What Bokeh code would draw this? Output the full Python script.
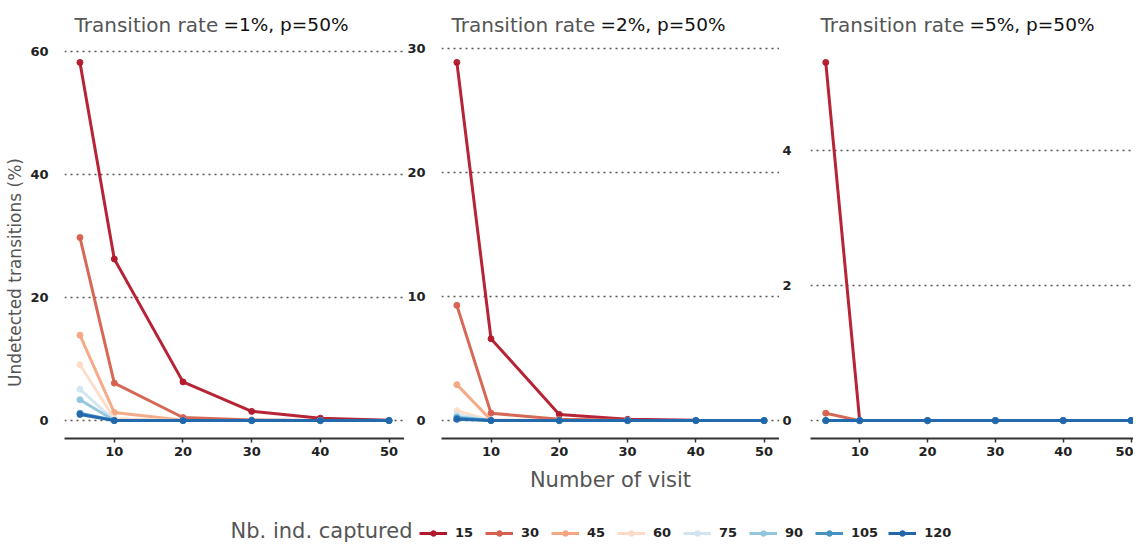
import math
from bokeh.plotting import figure
from bokeh.layouts import row, column
from bokeh.models import Range1d, Label, Legend, LegendItem
from bokeh.embed import file_html
from bokeh.resources import INLINE

# ---------------- data ----------------
visits = [5, 10, 20, 30, 40, 50]
captured = [15, 30, 45, 60, 75, 90, 105, 120]
colors = ["#b2182b", "#d6604d", "#f4a582", "#fddbc7",
          "#d1e5f0", "#92c5de", "#4393c3", "#2166ac"]

panel_title_grey = "Transition rate"
panel_title_black = ["=1%, p=50%", "=2%, p=50%", "=5%, p=50%"]

# undetected transitions (%) per number of captured individuals (rows) and visits (cols)
rate1 = [
    [58.3, 26.3, 6.3, 1.5, 0.4, 0.05],
    [29.8, 6.1, 0.5, 0.1, 0.0, 0.0],
    [13.9, 1.3, 0.05, 0.0, 0.0, 0.0],
    [9.1, 0.3, 0.0, 0.0, 0.0, 0.0],
    [5.1, 0.05, 0.0, 0.0, 0.0, 0.0],
    [3.4, 0.0, 0.0, 0.0, 0.0, 0.0],
    [1.2, 0.0, 0.0, 0.0, 0.0, 0.0],
    [1.0, 0.0, 0.0, 0.0, 0.0, 0.0],
]
rate2 = [
    [28.9, 6.6, 0.5, 0.1, 0.02, 0.0],
    [9.3, 0.6, 0.1, 0.02, 0.0, 0.0],
    [2.9, 0.05, 0.0, 0.0, 0.0, 0.0],
    [0.8, 0.0, 0.0, 0.0, 0.0, 0.0],
    [0.5, 0.0, 0.0, 0.0, 0.0, 0.0],
    [0.3, 0.0, 0.0, 0.0, 0.0, 0.0],
    [0.2, 0.0, 0.0, 0.0, 0.0, 0.0],
    [0.1, 0.0, 0.0, 0.0, 0.0, 0.0],
]
rate3 = [
    [5.31, 0.0, 0.0, 0.0, 0.0, 0.0],
    [0.11, 0.0, 0.0, 0.0, 0.0, 0.0],
    [0.0, 0.0, 0.0, 0.0, 0.0, 0.0],
    [0.0, 0.0, 0.0, 0.0, 0.0, 0.0],
    [0.0, 0.0, 0.0, 0.0, 0.0, 0.0],
    [0.0, 0.0, 0.0, 0.0, 0.0, 0.0],
    [0.0, 0.0, 0.0, 0.0, 0.0, 0.0],
    [0.0, 0.0, 0.0, 0.0, 0.0, 0.0],
]
yticks = [[0, 20, 40, 60], [0, 10, 20, 30], [0, 2, 4]]
xticks = [10, 20, 30, 40, 50]

# ---------------- styling / layout ----------------
FONT = "DejaVu Sans"
DATA_H = 394          # height of the expanded data area
EXTRA_TOP = 42        # room inside frame above data area for panel titles
FRAME_H = DATA_H + EXTRA_TOP
TOP, BOTTOM = 2, 67
H = TOP + FRAME_H + BOTTOM
TOTAL_H = 543
LABEL_W = 27
OVERHANG = 9          # space bokeh reserves right of each frame for the last x tick label
frames = [
    dict(left=28, fw=340),
    dict(left=26, fw=340),
    dict(left=18, fw=327),
]
xlo = visits[0] - 0.05 * (visits[-1] - visits[0])
xhi = visits[-1] + 0.05 * (visits[-1] - visits[0])
unit_px = 340 / (xhi - xlo)

# y-axis title strip
yl = figure(width=LABEL_W, height=H, x_range=Range1d(0, 1), y_range=Range1d(0, 1),
            output_backend="svg", toolbar_location=None,
            min_border_left=0, min_border_right=0,
            min_border_top=TOP, min_border_bottom=BOTTOM)
yl.axis.visible = False
yl.grid.visible = False
yl.outline_line_color = None
yl.add_layout(Label(x=14, y=166, x_units="screen", y_units="screen",
                    text="Undetected transitions (%)", angle=math.pi / 2,
                    text_font=FONT, text_font_size="17px", text_color="#555555",
                    text_align="center", text_baseline="middle"))

figs = [yl]
for i, data in enumerate([rate1, rate2, rate3]):
    fr = frames[i]
    ymax = max(max(r) for r in data)
    ylo, yhi = -0.05 * ymax, ymax * 1.05
    ppu = DATA_H / (yhi - ylo)
    y_end = yhi + EXTRA_TOP / ppu
    x_end = xlo + fr["fw"] / unit_px
    p = figure(width=fr["left"] + fr["fw"] + OVERHANG, height=H,
               x_range=Range1d(xlo, x_end), y_range=Range1d(ylo, y_end),
               output_backend="svg", toolbar_location=None,
               min_border_left=fr["left"], min_border_right=0,
               min_border_top=TOP, min_border_bottom=BOTTOM)
    p.outline_line_color = None
    p.background_fill_color = "white"
    p.border_fill_color = "white"
    p.xgrid.visible = False
    p.ygrid.grid_line_color = "#555555"
    p.ygrid.grid_line_dash = "2 4"
    p.ygrid.grid_line_width = 1.6

    p.yaxis.ticker = yticks[i]
    p.yaxis.axis_line_color = None
    p.yaxis.major_tick_line_color = None
    p.yaxis.minor_tick_line_color = None
    p.yaxis.major_label_standoff = 13 if i == 2 else 10
    p.yaxis.major_label_text_font = FONT
    p.yaxis.major_label_text_font_size = "13px"
    p.yaxis.major_label_text_font_style = "bold"
    p.yaxis.major_label_text_color = "#222222"

    p.xaxis.ticker = xticks
    p.xaxis.axis_line_color = "#333333"
    p.xaxis.axis_line_width = 2
    p.xaxis.major_tick_line_color = "#333333"
    p.xaxis.major_tick_line_width = 1.5
    p.xaxis.major_tick_out = 4
    p.xaxis.major_tick_in = 0
    p.xaxis.minor_tick_line_color = None
    p.xaxis.major_label_standoff = 4
    p.xaxis.major_label_text_font = FONT
    p.xaxis.major_label_text_font_size = "13px"
    p.xaxis.major_label_text_font_style = "bold"
    p.xaxis.major_label_text_color = "#222222"

    if i == 1:
        p.xaxis.axis_label = "Number of visit"
        p.xaxis.axis_label_standoff = 9
        p.xaxis.axis_label_text_font = FONT
        p.xaxis.axis_label_text_font_size = "21px"
        p.xaxis.axis_label_text_font_style = "normal"
        p.xaxis.axis_label_text_color = "#555555"

    for n, c, ys in zip(captured, colors, data):
        p.line(visits, ys, line_color=c, line_width=3, line_alpha=0.95)
        p.scatter(visits, ys, fill_color=c, line_color=c, size=6, alpha=0.95)

    p.add_layout(Label(x=10, y=FRAME_H - 22, x_units="screen", y_units="screen",
                       text=panel_title_grey, text_font=FONT, text_font_size="20px",
                       text_color="#555555", text_baseline="alphabetic"))
    p.add_layout(Label(x=159, y=FRAME_H - 22, x_units="screen", y_units="screen",
                       text=panel_title_black[i], text_font=FONT, text_font_size="18.5px",
                       text_color="#111111", text_baseline="alphabetic"))
    figs.append(p)

# ---------------- legend strip ----------------
LW = LABEL_W + sum(f["left"] + f["fw"] + OVERHANG for f in frames)
lf = figure(width=LW, height=TOTAL_H - H, x_range=Range1d(0, 1), y_range=Range1d(0, 1),
            output_backend="svg", toolbar_location=None, min_border=0)
lf.axis.visible = False
lf.grid.visible = False
lf.outline_line_color = None
items = []
for n, c in zip(captured, colors):
    r1 = lf.line(x=[-5, -4], y=[-5, -5], line_color=c, line_width=3)
    r2 = lf.scatter(x=[-5], y=[-5], fill_color=c, line_color=c, size=6)
    items.append(LegendItem(label=str(n), renderers=[r1, r2]))
legend = Legend(items=items, orientation="horizontal", location=(419, 3),
                glyph_width=28, glyph_height=14, label_standoff=8, spacing=10,
                padding=0, margin=0, border_line_color=None, background_fill_alpha=0,
                label_text_font=FONT, label_text_font_size="13px",
                label_text_font_style="bold", label_text_color="#222222")
lf.add_layout(legend)
lf.add_layout(Label(x=412, y=13, x_units="screen", y_units="screen",
                    text="Nb. ind. captured", text_font=FONT, text_font_size="21px",
                    text_color="#555555", text_align="right", text_baseline="middle"))

layout = column(row(*figs), lf)
open("out.html", "w").write(file_html(layout, INLINE))
